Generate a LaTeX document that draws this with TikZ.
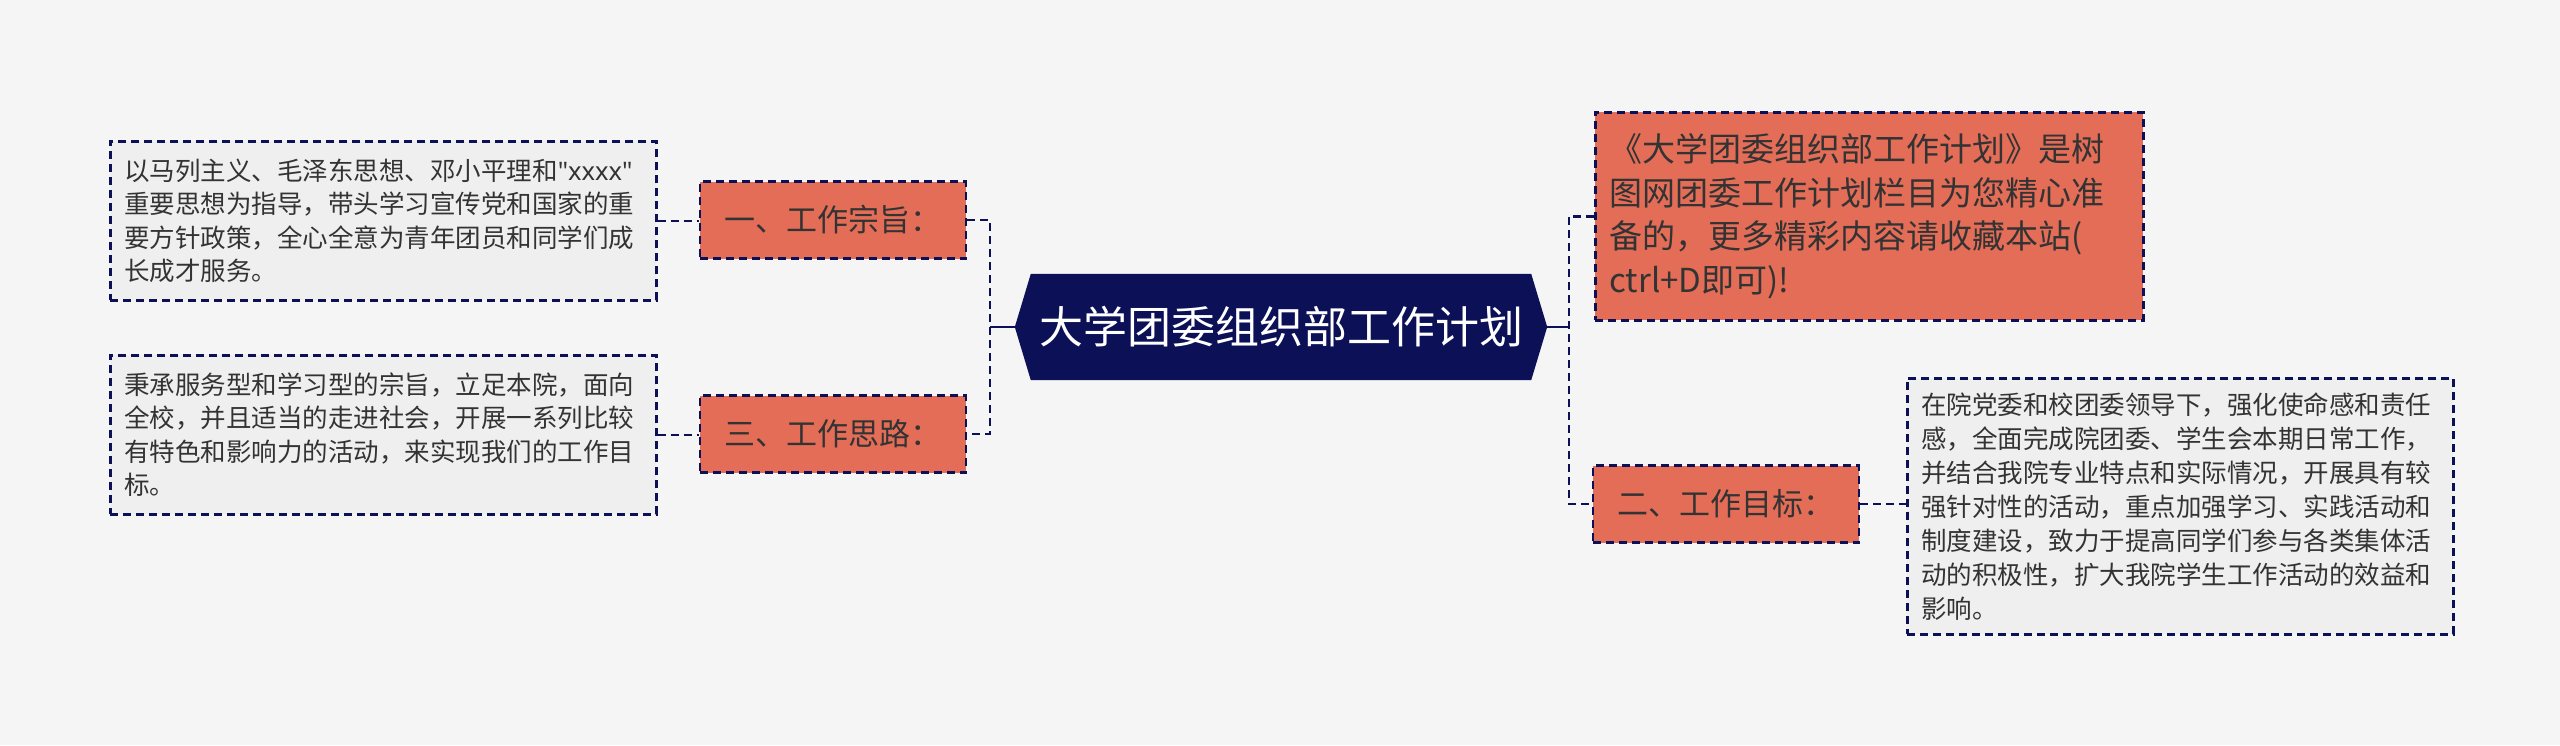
\documentclass[tikz,border=0pt]{standalone}
\usepackage{fontspec}
\setmainfont{Noto Sans CJK SC}
\newfontfamily\latinfont{Noto Sans}
\usetikzlibrary{backgrounds}
\definecolor{bg}{HTML}{F5F5F5}
\definecolor{navy}{HTML}{0B1057}
\definecolor{coral}{HTML}{E46D58}
\definecolor{grayfill}{HTML}{EFEFEF}
\definecolor{txt}{HTML}{333333}
\begin{document}
\begin{tikzpicture}[x=1pt,y=-1pt,
  dashline/.style={draw=navy, line width=2.6pt, dash pattern=on 8pt off 5pt},
  note/.style={dashline, fill=grayfill, anchor=north west, minimum width=546pt,
    inner xsep=14pt, inner ysep=0pt, text width=518pt, text=txt, align=left},
  notefont/.style={font=\fontsize{25.5}{33.5}\selectfont},
  topic/.style={dashline, fill=coral, text=txt, inner sep=0pt,
    minimum width=266pt, minimum height=77pt, font=\fontsize{31}{36}\selectfont},
  conn/.style={dashline},
  stub/.style={draw=navy, line width=2.6pt},
]
\begin{pgfonlayer}{background}
\fill[bg] (0,0) rectangle (2560,745);
\end{pgfonlayer}
\useasboundingbox (0,0) rectangle (2560,745);

% central node
\node (c) at (1281,327) [minimum width=532pt, minimum height=106pt, inner sep=0pt,
  text=white, font=\fontsize{44}{50}\selectfont] {大学团委组织部工作计划};
\begin{pgfonlayer}{background}
\fill[navy] ([xshift=16pt]c.north west) -- ([xshift=-16pt]c.north east) -- (c.east)
  -- ([xshift=-16pt]c.south east) -- ([xshift=16pt]c.south west) -- (c.west) -- cycle;
\end{pgfonlayer}

% left side
\node (g1) at (109,140) [note, notefont, minimum height=159pt] {以马列主义、毛泽东思想、邓小平理和{\latinfont\symbol{34}xxxx\symbol{34}}\\
重要思想为指导，带头学习宣传党和国家的重\\
要方针政策，全心全意为青年团员和同学们成\\
长成才服务。};
\node (g3) at (109,354) [note, notefont, minimum height=159pt] {秉承服务型和学习型的宗旨，立足本院，面向\\
全校，并且适当的走进社会，开展一系列比较\\
有特色和影响力的活动，来实现我们的工作目\\
标。};
\node (t1) at (833,220) [topic] {一、工作宗旨：};
\node (t3) at (833,434) [topic] {三、工作思路：};

% right side
\node (t4) at (1594,111) [dashline, fill=coral, anchor=north west, minimum width=548pt,
  minimum height=208pt, inner xsep=14pt, inner ysep=0pt, text width=520pt, align=left,
  text=txt, font=\fontsize{33}{43.5}\selectfont] {《大学团委组织部工作计划》是树\\
图网团委工作计划栏目为您精心准\\
备的，更多精彩内容请收藏本站(\\
ctrl+D即可)!};
\node (t2) at (1726,504) [topic] {二、工作目标：};
\node (g2) at (1906,377) [note, font=\fontsize{25.5}{34}\selectfont, minimum height=256pt] {在院党委和校团委领导下，强化使命感和责任\\
感，全面完成院团委、学生会本期日常工作，\\
并结合我院专业特点和实际情况，开展具有较\\
强针对性的活动，重点加强学习、实践活动和\\
制度建设，致力于提高同学们参与各类集体活\\
动的积极性，扩大我院学生工作活动的效益和\\
影响。};

% connectors
\coordinate (lj) at (990,327);
\coordinate (rj) at (1569,327);
\draw[stub] (c.west) -- (lj);
\draw[stub] (c.east) -- (rj);
\draw[conn] (t1.east) -| (lj) |- (t3.east);
\draw[conn] (t4.west) -| (rj) |- (t2.west);
\draw[conn] (g1.east) -- (g1.east -| t1.west);
\draw[conn] (g3.east) -- (g3.east -| t3.west);
\draw[conn] (t2.east) -- (t2.east -| g2.west);
\end{tikzpicture}
\end{document}
